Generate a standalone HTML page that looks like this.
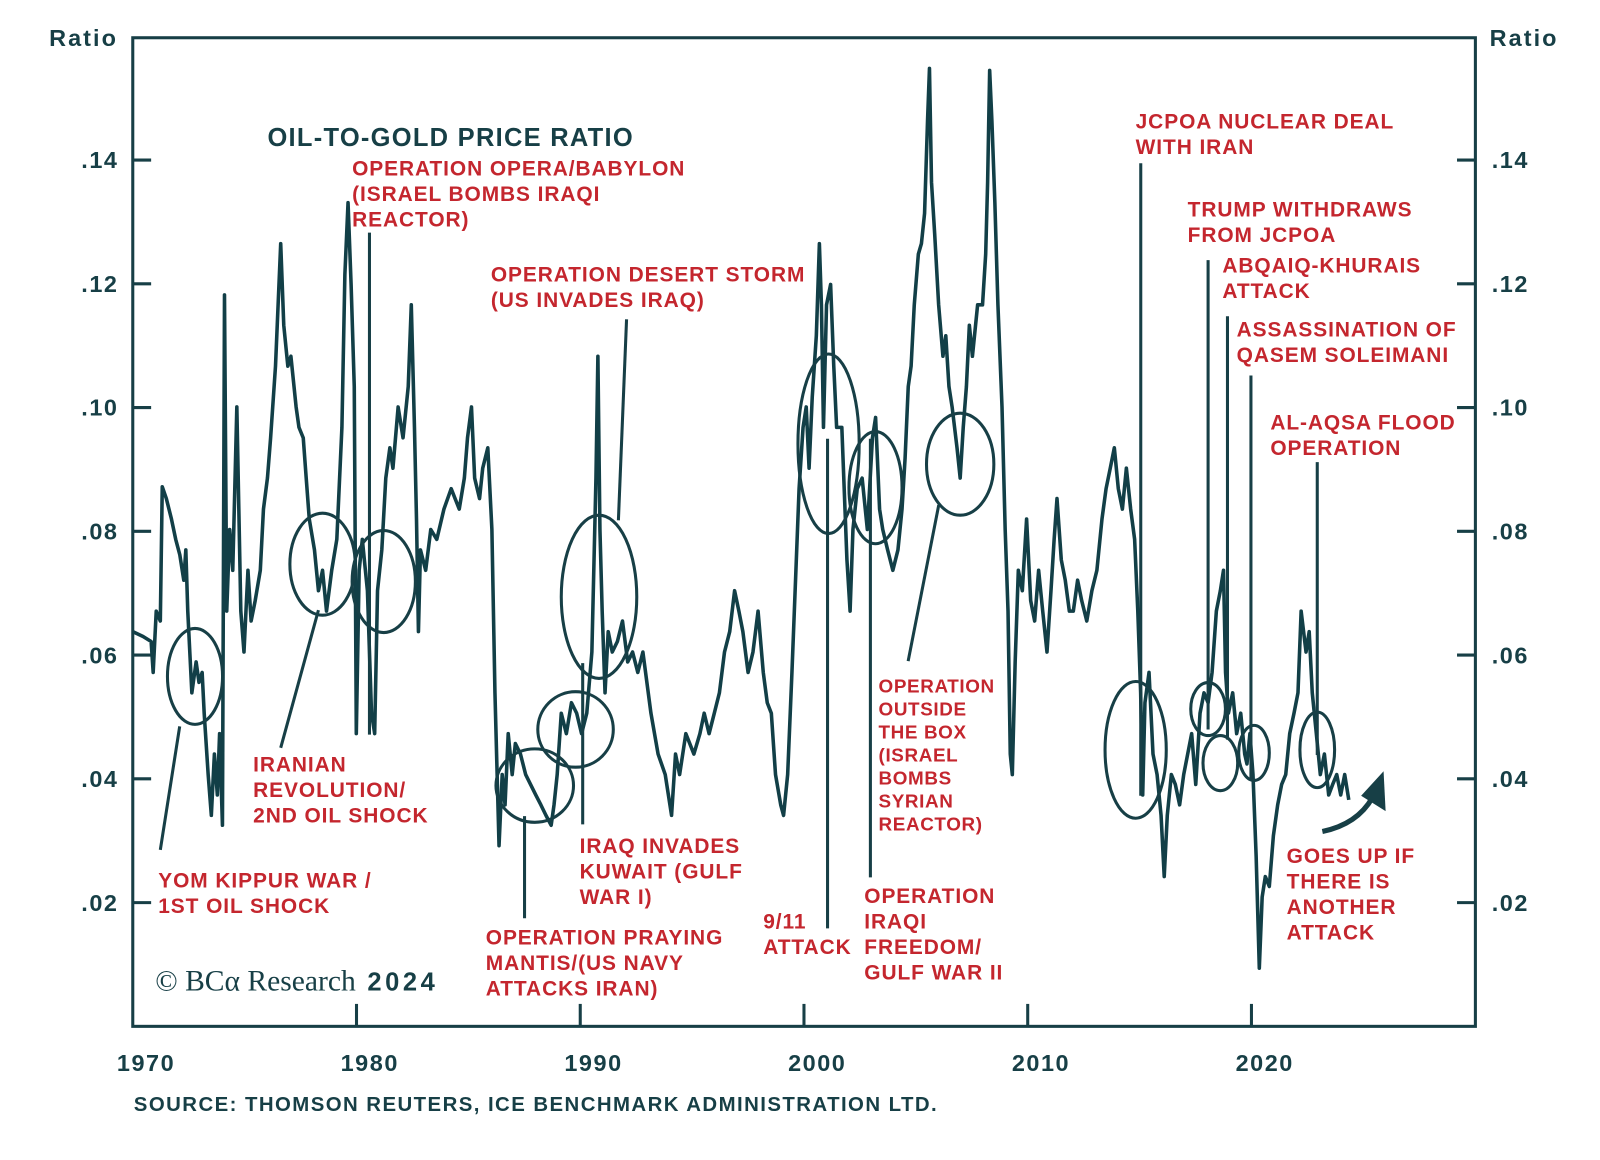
<!DOCTYPE html>
<html><head><meta charset="utf-8">
<style>
html,body{margin:0;padding:0;background:#fff;}
svg{display:block;font-family:"Liberation Sans",sans-serif;}
.red{fill:#c4262e;font-weight:bold;font-size:20.5px;letter-spacing:0.9px;}
.ax{fill:#173f46;font-weight:bold;font-size:23px;letter-spacing:1.5px;}
</style></head>
<body>
<svg id="chart" width="1600" height="1160" viewBox="0 0 1568 1137">
<rect width="1568" height="1137" fill="#fff"/>
<g id="frame"></g>
<g id="series"></g>
<g id="annot"></g>
</svg>
<script>
const years=[1970.00,1970.46,1970.82,1970.91,1971.05,1971.23,1971.32,1971.50,1971.73,1971.92,1972.10,1972.28,1972.37,1972.46,1972.55,1972.64,1972.83,1972.96,1973.10,1973.19,1973.37,1973.51,1973.65,1973.78,1973.88,1974.01,1974.10,1974.20,1974.33,1974.47,1974.65,1974.83,1974.97,1975.15,1975.29,1975.47,1975.70,1975.84,1976.02,1976.16,1976.38,1976.61,1976.75,1976.93,1977.07,1977.30,1977.43,1977.62,1977.75,1977.89,1978.12,1978.30,1978.48,1978.66,1978.89,1979.12,1979.35,1979.48,1979.62,1979.76,1979.90,1979.99,1980.12,1980.26,1980.49,1980.67,1980.81,1980.94,1981.13,1981.31,1981.49,1981.63,1981.86,1982.08,1982.31,1982.45,1982.59,1982.68,1982.77,1982.86,1983.09,1983.32,1983.59,1983.91,1984.23,1984.59,1984.82,1984.96,1985.14,1985.28,1985.50,1985.64,1985.87,1986.05,1986.19,1986.37,1986.51,1986.64,1986.78,1986.96,1987.10,1987.33,1987.56,1987.78,1988.01,1988.24,1988.47,1988.70,1988.83,1988.97,1989.15,1989.38,1989.61,1989.84,1990.06,1990.29,1990.52,1990.70,1990.79,1990.88,1990.98,1991.11,1991.25,1991.43,1991.66,1991.89,1992.12,1992.34,1992.57,1992.80,1993.16,1993.48,1993.80,1994.08,1994.26,1994.44,1994.72,1995.08,1995.35,1995.54,1995.76,1995.99,1996.22,1996.45,1996.68,1996.90,1997.09,1997.27,1997.50,1997.72,1997.95,1998.18,1998.36,1998.54,1998.73,1998.96,1999.09,1999.27,1999.46,1999.64,1999.78,1999.96,2000.10,2000.23,2000.37,2000.55,2000.69,2000.78,2000.87,2001.01,2001.19,2001.33,2001.46,2001.69,2001.92,2002.06,2002.19,2002.38,2002.60,2002.83,2003.06,2003.20,2003.38,2003.52,2003.74,2003.97,2004.20,2004.38,2004.52,2004.66,2004.79,2004.93,2005.11,2005.25,2005.39,2005.52,2005.61,2005.70,2005.84,2006.02,2006.21,2006.34,2006.48,2006.62,2006.84,2006.98,2007.12,2007.26,2007.39,2007.53,2007.76,2007.98,2008.12,2008.21,2008.30,2008.40,2008.53,2008.67,2008.85,2008.99,2009.12,2009.22,2009.31,2009.44,2009.58,2009.76,2009.95,2010.13,2010.31,2010.49,2010.67,2010.86,2011.04,2011.18,2011.31,2011.50,2011.68,2011.86,2012.04,2012.23,2012.41,2012.64,2012.87,2013.09,2013.32,2013.50,2013.69,2013.87,2014.05,2014.23,2014.41,2014.60,2014.78,2014.92,2015.05,2015.14,2015.24,2015.42,2015.60,2015.78,2015.96,2016.10,2016.24,2016.42,2016.60,2016.79,2016.97,2017.15,2017.33,2017.51,2017.70,2017.88,2018.06,2018.24,2018.43,2018.61,2018.75,2018.84,2018.97,2019.16,2019.34,2019.52,2019.70,2019.80,2019.93,2020.07,2020.21,2020.35,2020.48,2020.62,2020.80,2020.98,2021.17,2021.35,2021.53,2021.71,2021.90,2022.08,2022.22,2022.44,2022.58,2022.72,2022.90,2023.08,2023.26,2023.45,2023.63,2023.81,2023.99,2024.17,2024.35];
const ratio=[.0638,.0630,.0622,.0572,.0671,.0655,.0872,.0853,.0820,.0787,.0762,.0721,.0770,.0671,.0605,.0539,.0589,.0556,.0572,.0506,.0407,.0341,.0440,.0374,.0473,.0325,.1182,.0671,.0803,.0737,.1001,.0671,.0605,.0737,.0655,.0688,.0737,.0836,.0886,.0951,.1067,.1265,.1133,.1067,.1083,.1001,.0968,.0951,.0886,.0820,.0770,.0704,.0737,.0671,.0737,.0787,.0968,.1215,.1331,.1199,.1034,.0473,.0737,.0787,.0704,.0506,.0473,.0704,.0770,.0886,.0935,.0902,.1001,.0951,.1034,.1166,.0968,.0820,.0638,.0770,.0737,.0803,.0787,.0836,.0869,.0836,.0886,.0951,.1001,.0886,.0853,.0902,.0935,.0803,.0539,.0292,.0407,.0358,.0473,.0407,.0457,.0440,.0407,.0391,.0374,.0358,.0341,.0325,.0358,.0407,.0506,.0473,.0523,.0506,.0473,.0506,.0605,.0886,.1083,.0803,.0671,.0539,.0638,.0605,.0622,.0655,.0589,.0605,.0572,.0605,.0506,.0440,.0407,.0341,.0440,.0407,.0473,.0440,.0473,.0506,.0473,.0506,.0539,.0605,.0638,.0704,.0671,.0638,.0572,.0605,.0671,.0572,.0523,.0506,.0407,.0358,.0341,.0407,.0572,.0737,.0869,.0968,.1001,.0902,.1017,.1116,.1265,.1166,.0968,.1166,.1199,.1067,.0968,.0968,.0754,.0671,.0803,.0869,.0886,.0803,.0951,.0984,.0836,.0803,.0770,.0737,.0770,.0836,.0918,.1034,.1067,.1166,.1248,.1265,.1314,.1463,.1548,.1364,.1281,.1166,.1083,.1116,.1034,.1001,.0935,.0886,.0968,.1034,.1133,.1083,.1166,.1166,.1248,.1364,.1545,.1463,.1331,.1166,.1001,.0803,.0671,.0440,.0407,.0589,.0737,.0704,.0820,.0688,.0655,.0737,.0671,.0605,.0704,.0787,.0853,.0754,.0721,.0671,.0671,.0721,.0688,.0655,.0704,.0737,.0820,.0869,.0902,.0935,.0869,.0836,.0902,.0836,.0787,.0671,.0539,.0374,.0523,.0572,.0440,.0407,.0341,.0242,.0341,.0407,.0391,.0358,.0407,.0440,.0473,.0391,.0506,.0539,.0523,.0572,.0671,.0704,.0737,.0572,.0506,.0539,.0473,.0506,.0440,.0424,.0473,.0407,.0275,.0094,.0209,.0242,.0226,.0308,.0358,.0391,.0407,.0473,.0506,.0539,.0671,.0605,.0638,.0539,.0473,.0407,.0440,.0374,.0391,.0407,.0374,.0407,.0366];
const yTicks=[0.02,0.04,0.06,0.08,0.10,0.12,0.14];
const yTickLabels=[".02",".04",".06",".08",".10",".12",".14"];
const xTicks=[1970,1980,1990,2000,2010,2020];

const NS="http://www.w3.org/2000/svg";
const L=130,R=1446,T=37,B=1006;
const X=y=>L+(y-1970)*21.93;
const Y=v=>B-v*6065;
function mk(tag,attrs,parent,text){const e=document.createElementNS(NS,tag);for(const k in attrs)e.setAttribute(k,attrs[k]);if(text!=null)e.textContent=text;parent.appendChild(e);return e;}
const frame=document.getElementById('frame'),series=document.getElementById('series'),an=document.getElementById('annot');
const C="#173f46";
let box=mk('rect',{x:L,y:T,width:R-L,height:B-T,fill:'none',stroke:C,'stroke-width':3},frame);


yTicks.forEach((v,i)=>{
  const y=Y(v);
  let t1=mk('line',{x1:L,x2:L+18,y1:y,y2:y,stroke:C,'stroke-width':3},frame);
  
  
  let t2=mk('line',{x1:R-18,x2:R,y1:y,y2:y,stroke:C,'stroke-width':3},frame);
  
  
  let a=mk('text',{x:116,y:y+8,'text-anchor':'end',class:'ax'},frame,yTickLabels[i]);
  
  
  let b=mk('text',{x:1462,y:y+8,class:'ax'},frame,yTickLabels[i]);
  
  
});
xTicks.forEach(yr=>{
  const x=X(yr);
  if(yr>1970){let t=mk('line',{x1:x,x2:x,y1:B-22,y2:B,stroke:C,'stroke-width':3},frame);
  
  }
  let l=mk('text',{x:x+13,y:1050,'text-anchor':'middle',class:'ax'},frame,String(yr));
  
  
});
let d=years.map((yr,i)=>(i?'L':'M')+X(yr).toFixed(1)+','+Y(ratio[i]).toFixed(1)).join('');
let p=mk('path',{d:d,fill:'none',stroke:'#123f47','stroke-width':3.5,'stroke-linejoin':'round'},series);



const lines=[[157,833,176,712],[275,733,312,598],[362,228,362,720],[614,313,606,510],[514,800,514,900],[571,650,571,808],[811,430,811,910],[853,430,853,860],[920,495,890,648],[1118,160,1118,780],[1184,255,1184,715],[1203,310,1203,725],[1226,368,1226,765],[1291,453,1291,740]];
lines.forEach(a=>{let e=mk('line',{x1:a[0],y1:a[1],x2:a[2],y2:a[3],stroke:C,'stroke-width':3},an);

});
const ells=[[191,663,27,47],[316,553,32,50],[376,570,31,50],[587,585,37,80],[564,715,37,37],[524,770,38,36],[812,435,30,88],[858,478,26,55],[941,455,33,50],[1113,735,30,67],[1184,695,17,26],[1196,748,17,27],[1229,738,15,27],[1291,735,17,37]];
ells.forEach(a=>{let e=mk('ellipse',{cx:a[0],cy:a[1],rx:a[2],ry:a[3],fill:'none',stroke:C,'stroke-width':3},an);

});
const labels=[
 [345,172,["OPERATION OPERA/BABYLON","(ISRAEL BOMBS IRAQI","REACTOR)"],'label-opera'],
 [481,276,["OPERATION DESERT STORM","(US INVADES IRAQ)"],'label-desert-storm'],
 [1113,126,["JCPOA NUCLEAR DEAL","WITH IRAN"],'label-jcpoa'],
 [1164,212,["TRUMP WITHDRAWS","FROM JCPOA"],'label-trump'],
 [1198,267,["ABQAIQ-KHURAIS","ATTACK"],'label-abqaiq'],
 [1212,330,["ASSASSINATION OF","QASEM SOLEIMANI"],'label-soleimani'],
 [1245,421,["AL-AQSA FLOOD","OPERATION"],'label-al-aqsa'],
 [248,756,["IRANIAN","REVOLUTION/","2ND OIL SHOCK"],'label-iranian'],
 [155,870,["YOM KIPPUR WAR /","1ST OIL SHOCK"],'label-yom-kippur'],
 [568,836,["IRAQ INVADES","KUWAIT (GULF","WAR I)"],'label-kuwait'],
 [476,926,["OPERATION PRAYING","MANTIS/(US NAVY","ATTACKS IRAN)"],'label-praying-mantis'],
 [748,910,["9/11","ATTACK"],'label-911'],
 [847,885,["OPERATION","IRAQI","FREEDOM/","GULF WAR II"],'label-iraqi-freedom'],
 [1261,846,["GOES UP IF","THERE IS","ANOTHER","ATTACK"],'label-goes-up']];
labels.forEach(a=>{let t=mk('text',{x:a[0],y:a[1],class:'red'},an);
 
 
 a[2].forEach((s,i)=>mk('tspan',{x:a[0],dy:i?25:0},t,s));});
let ob=mk('text',{x:861,y:679,class:'red'},an);


["OPERATION","OUTSIDE","THE BOX","(ISRAEL","BOMBS","SYRIAN","REACTOR)"].forEach((s,i)=>mk('tspan',{x:861,dy:i?22.5:0,style:'font-size:18.5px;letter-spacing:0.6px'},ob,s));
</script>
<script>
(function(){
const NS="http://www.w3.org/2000/svg";const s=document.getElementById('chart');
function add(tag,attrs,text,name){const e=document.createElementNS(NS,tag);for(const k in attrs)e.setAttribute(k,attrs[k]);if(text)e.textContent=text;s.appendChild(e);

return e;}
add('text',{x:48,y:45,'font-size':23,'font-weight':'bold',fill:'#173f46','letter-spacing':2},'Ratio','y-axis-title-left');
add('text',{x:1460,y:45,'font-size':23,'font-weight':'bold',fill:'#173f46','letter-spacing':2},'Ratio','y-axis-title-right');
add('text',{x:262,y:143,'font-size':25,'font-weight':'bold',fill:'#173f46',textLength:358,lengthAdjust:'spacing'},'OIL-TO-GOLD PRICE RATIO','chart-title');
add('text',{x:152,y:971,'font-size':29,fill:'#173f46','font-family':'Liberation Serif, serif'},'© BCα Research','copyright');
add('text',{x:360,y:971,'font-size':25,'font-weight':'bold',fill:'#173f46','letter-spacing':3.5},'2024','copyright-year');
add('text',{x:131,y:1089,'font-size':20,'font-weight':'bold',fill:'#173f46',textLength:787,lengthAdjust:'spacing'},'SOURCE: THOMSON REUTERS, ICE BENCHMARK ADMINISTRATION LTD.','source-note');
add('path',{d:'M1296,815 Q1330,808 1345,782',fill:'none',stroke:'#173f46','stroke-width':5},null,'up-arrow-shaft');
add('path',{d:'M1356,756 L1358,795 L1334,780 Z',fill:'#173f46'},null,'up-arrow-head');
})();
</script>
</body></html>
